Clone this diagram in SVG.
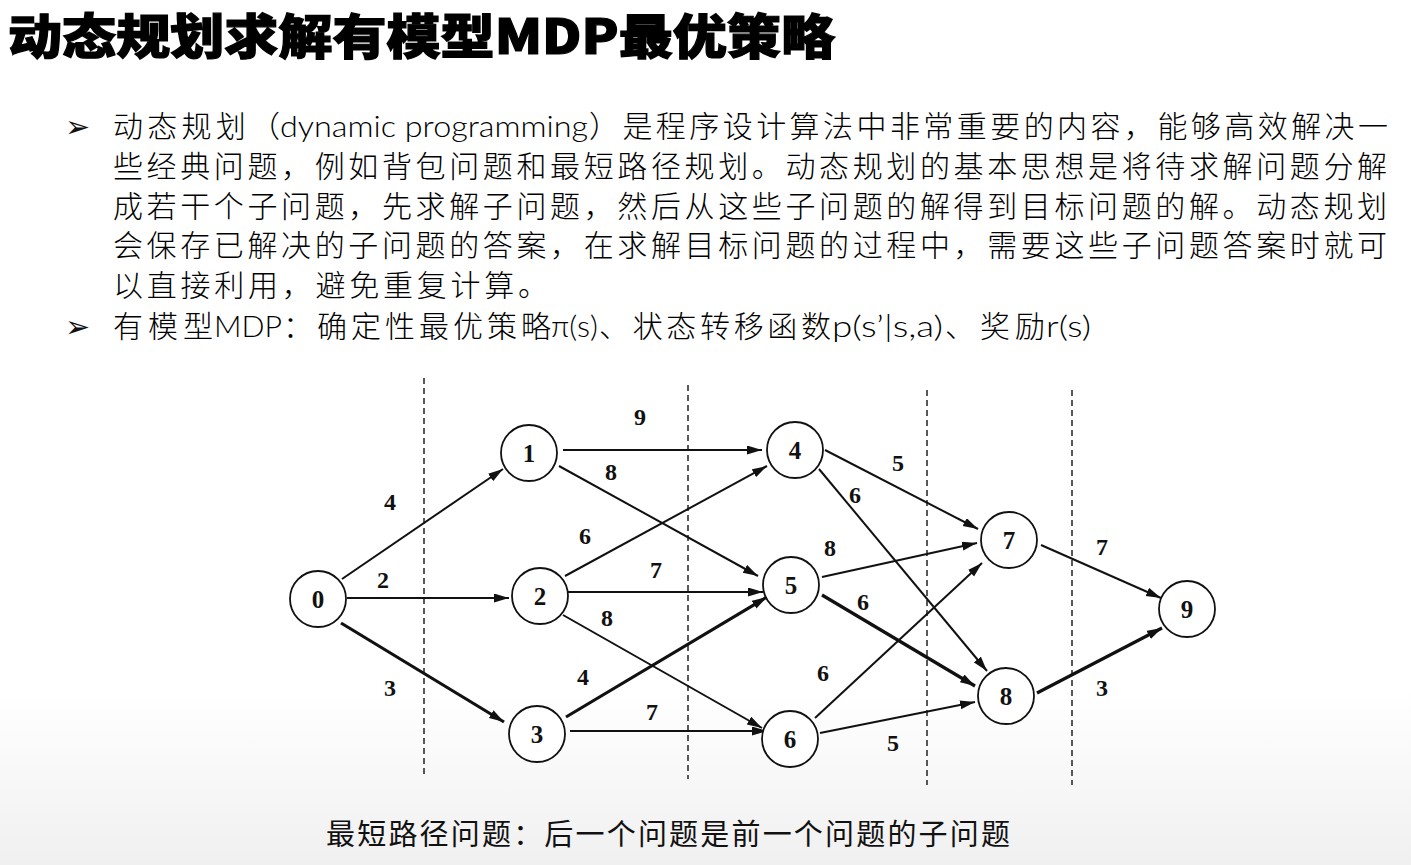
<svg xmlns="http://www.w3.org/2000/svg" width="1411" height="865" viewBox="0 0 1411 865">
  <defs>
    <linearGradient id="bg" x1="0" y1="0" x2="0" y2="1">
      <stop offset="0" stop-color="#ffffff"/>
      <stop offset="0.8" stop-color="#ffffff"/>
      <stop offset="1" stop-color="#f0f0f0"/>
    </linearGradient>
    <marker id="arrow" markerUnits="userSpaceOnUse" markerWidth="16" markerHeight="10" refX="15" refY="4.5" orient="auto">
      <path d="M0,0 L15,4.5 L0,9 Z" fill="#111"/>
    </marker>
    <style>
      .title { font-family: "Noto Sans CJK SC", "Liberation Sans", sans-serif; font-weight: 900; font-size: 48px; fill: #000; stroke: #000; stroke-width: 1.2px; }
      .body { font-family: "Noto Sans CJK SC", "Liberation Sans", sans-serif; font-weight: 300; font-size: 30px; fill: #000; }
      .latin { font-family: Lato, "Open Sans", "Liberation Sans", sans-serif; font-weight: 300; }
      .bullet { font-family: "DejaVu Sans", sans-serif; font-size: 30px; fill: #111; }
      .caption { font-family: "Noto Sans CJK SC", "Liberation Serif", serif; font-weight: normal; font-size: 29px; fill: #111; }
      .divider { stroke: #222; stroke-width: 1.5; stroke-dasharray: 6 4; fill: none; }
      .edge { stroke: #111; stroke-width: 2; fill: none; marker-end: url(#arrow); }
      .edge.heavy { stroke-width: 3.2; }
      .node circle { fill: #fff; stroke: #111; stroke-width: 1.8; }
      .node text { font-family: "Liberation Serif", "Times New Roman", serif; font-weight: bold; font-size: 25px; fill: #111; text-anchor: middle; }
      .weight { font-family: "Liberation Serif", "Times New Roman", serif; font-weight: bold; font-size: 24px; fill: #111; text-anchor: middle; }
    </style>
  </defs>

  <rect x="0" y="0" width="1411" height="865" fill="url(#bg)"/>

  <!-- heading -->
  <text class="title" x="8" y="54" textLength="827" lengthAdjust="spacingAndGlyphs">动态规划求解有模型MDP最优策略</text>

  <!-- bullet paragraphs -->
  <g id="paragraph">
    <text class="bullet" x="65" y="137">➢</text>
    <text class="body" y="137">
      <tspan x="113" textLength="167" lengthAdjust="spacing">动态规划（</tspan><tspan class="latin" x="280" textLength="308" lengthAdjust="spacingAndGlyphs">dynamic programming</tspan><tspan x="589" textLength="799" lengthAdjust="spacing">）是程序设计算法中非常重要的内容，能够高效解决一</tspan>
    </text>
    <text class="body" x="113" y="177" textLength="1274" lengthAdjust="spacing">些经典问题，例如背包问题和最短路径规划。动态规划的基本思想是将待求解问题分解</text>
    <text class="body" x="113" y="217" textLength="1274" lengthAdjust="spacing">成若干个子问题，先求解子问题，然后从这些子问题的解得到目标问题的解。动态规划</text>
    <text class="body" x="113" y="256" textLength="1274" lengthAdjust="spacing">会保存已解决的子问题的答案，在求解目标问题的过程中，需要这些子问题答案时就可</text>
    <text class="body" x="113" y="296" textLength="435" lengthAdjust="spacing">以直接利用，避免重复计算。</text>
    <text class="bullet" x="65" y="337">➢</text>
    <text class="body" y="337">
      <tspan x="113" textLength="100" lengthAdjust="spacing">有模型</tspan><tspan class="latin" x="214" textLength="68" lengthAdjust="spacingAndGlyphs">MDP</tspan><tspan x="283" textLength="268" lengthAdjust="spacing">：确定性最优策略</tspan><tspan class="latin" x="551" textLength="47" lengthAdjust="spacingAndGlyphs">π(s)</tspan><tspan x="599" textLength="232" lengthAdjust="spacing">、状态转移函数</tspan><tspan class="latin" x="832" textLength="111" lengthAdjust="spacingAndGlyphs">p(s’|s,a)</tspan><tspan x="945" textLength="100" lengthAdjust="spacing">、奖励</tspan><tspan class="latin" x="1046" textLength="45" lengthAdjust="spacingAndGlyphs">r(s)</tspan>
    </text>
  </g>

  <!-- stage dividers -->
  <g id="dividers">
    <line class="divider" x1="424" y1="378" x2="424" y2="774"/>
    <line class="divider" x1="688" y1="385" x2="688" y2="779"/>
    <line class="divider" x1="927" y1="390" x2="927" y2="785"/>
    <line class="divider" x1="1072" y1="390" x2="1072" y2="785"/>
  </g>

  <!-- connectors -->
  <g id="connectors">
    <line id="e0-1" class="edge" x1="342" y1="579" x2="503" y2="469"/>
    <line id="e0-2" class="edge" x1="347" y1="598" x2="509" y2="598"/>
    <line id="e0-3" class="edge heavy" x1="341" y1="623" x2="504" y2="722"/>
    <line id="e1-4" class="edge" x1="563" y1="450" x2="762" y2="450"/>
    <line id="e1-5" class="edge" x1="559" y1="466" x2="758" y2="576"/>
    <line id="e2-4" class="edge" x1="565" y1="576" x2="767" y2="466"/>
    <line id="e2-5" class="edge" x1="567" y1="592" x2="763" y2="592"/>
    <line id="e2-6" class="edge" x1="563" y1="615" x2="762" y2="728"/>
    <line id="e3-5" class="edge heavy" x1="566" y1="717" x2="767" y2="597"/>
    <line id="e3-6" class="edge" x1="570" y1="731" x2="767" y2="731"/>
    <line id="e4-7" class="edge" x1="825" y1="450" x2="978" y2="529"/>
    <line id="e4-8" class="edge" x1="819" y1="469" x2="987" y2="671"/>
    <line id="e5-7" class="edge" x1="822" y1="577" x2="977" y2="543"/>
    <line id="e5-8" class="edge heavy" x1="822" y1="595" x2="975" y2="686"/>
    <line id="e6-7" class="edge" x1="815" y1="718" x2="982" y2="563"/>
    <line id="e6-8" class="edge" x1="820" y1="733" x2="975" y2="702"/>
    <line id="e7-9" class="edge" x1="1041" y1="545" x2="1161" y2="598"/>
    <line id="e8-9" class="edge heavy" x1="1037" y1="693" x2="1162" y2="628"/>

    <text class="weight" x="390" y="510">4</text>
    <text class="weight" x="383" y="588">2</text>
    <text class="weight" x="390" y="696">3</text>
    <text class="weight" x="640" y="425">9</text>
    <text class="weight" x="611" y="480">8</text>
    <text class="weight" x="585" y="544">6</text>
    <text class="weight" x="656" y="578">7</text>
    <text class="weight" x="607" y="626">8</text>
    <text class="weight" x="583" y="685">4</text>
    <text class="weight" x="652" y="720">7</text>
    <text class="weight" x="898" y="471">5</text>
    <text class="weight" x="855" y="503">6</text>
    <text class="weight" x="830" y="556">8</text>
    <text class="weight" x="863" y="610">6</text>
    <text class="weight" x="823" y="681">6</text>
    <text class="weight" x="893" y="751">5</text>
    <text class="weight" x="1102" y="555">7</text>
    <text class="weight" x="1102" y="696">3</text>
  </g>

  <!-- states -->
  <g id="node-0" class="node"><circle cx="318" cy="599" r="28"/><text x="318" y="608">0</text></g>
  <g id="node-1" class="node"><circle cx="529" cy="453" r="28"/><text x="529" y="462">1</text></g>
  <g id="node-2" class="node"><circle cx="540" cy="596" r="28"/><text x="540" y="605">2</text></g>
  <g id="node-3" class="node"><circle cx="537" cy="734" r="28"/><text x="537" y="743">3</text></g>
  <g id="node-4" class="node"><circle cx="795" cy="450" r="28"/><text x="795" y="459">4</text></g>
  <g id="node-5" class="node"><circle cx="791" cy="585" r="28"/><text x="791" y="594">5</text></g>
  <g id="node-6" class="node"><circle cx="790" cy="739" r="28"/><text x="790" y="748">6</text></g>
  <g id="node-7" class="node"><circle cx="1009" cy="540" r="28"/><text x="1009" y="549">7</text></g>
  <g id="node-8" class="node"><circle cx="1006" cy="696" r="28"/><text x="1006" y="705">8</text></g>
  <g id="node-9" class="node"><circle cx="1187" cy="609" r="28"/><text x="1187" y="618">9</text></g>

  <!-- caption -->
  <text class="caption" x="326" y="845" textLength="684" lengthAdjust="spacing">最短路径问题：后一个问题是前一个问题的子问题</text>
</svg>
